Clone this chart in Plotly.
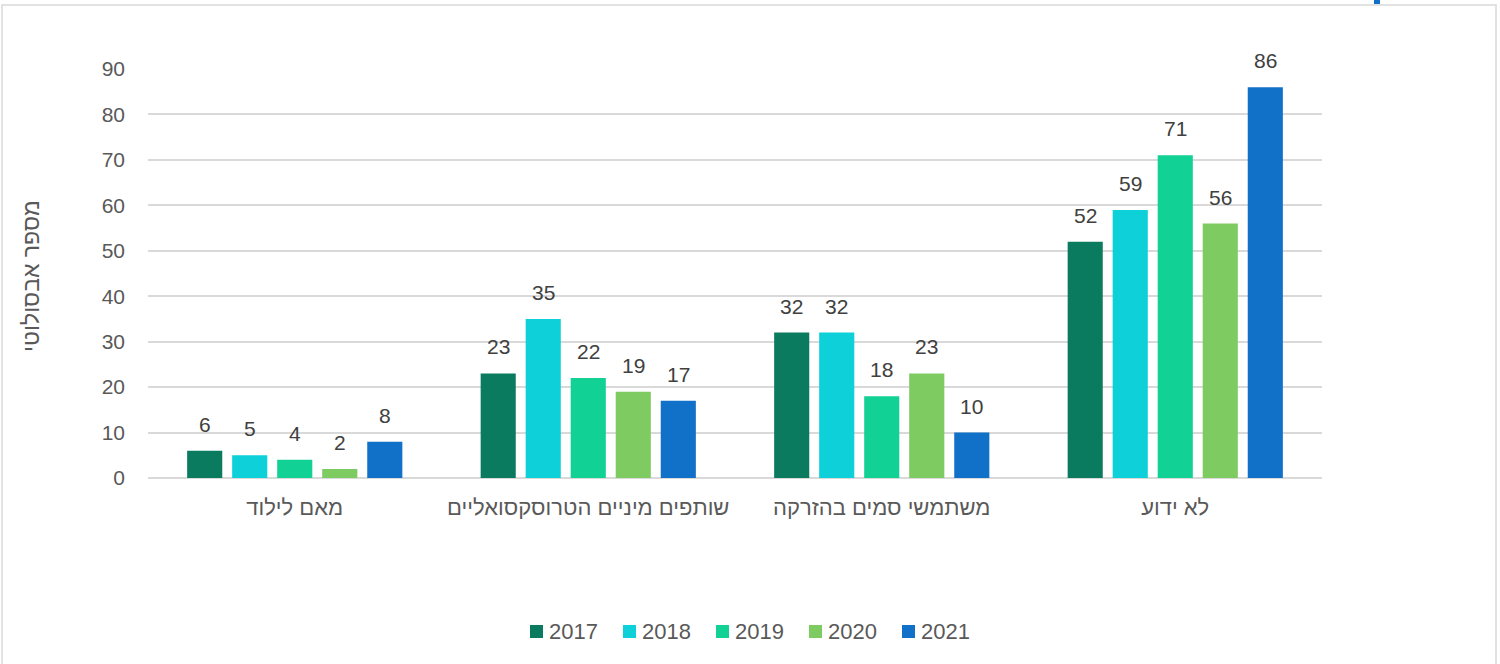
import plotly.graph_objects as go

categories = ["מאם לילוד", "שותפים מיניים הטרוסקסואליים", "משתמשי סמים בהזרקה", "לא ידוע"]
years = ["2017", "2018", "2019", "2020", "2021"]
v2017 = [6, 23, 32, 52]
v2018 = [5, 35, 32, 59]
v2019 = [4, 22, 18, 71]
v2020 = [2, 19, 23, 56]
v2021 = [8, 17, 10, 86]
series = [v2017, v2018, v2019, v2020, v2021]
colors = ["#0B7B5F", "#0DD0D8", "#12D195", "#7ECB62", "#1170C7"]

FONT = "Liberation Sans, Arial, sans-serif"
W, H = 1500, 664
# plot area in pixel coordinates
X0, X1, Y0, Y1 = 148, 1322, 69, 478
L = X0
R = W - X1
T = Y0
B = H - Y1
PW = W - L - R
PH = H - T - B

BARGAP = 0.233
GROUPGAP = 0.22

def px(x):
    return (x - X0) / PW

def py(y):
    return (Y1 - y) / PH

fig = go.Figure()
for name, vals, col in zip(years, series, colors):
    fig.add_trace(go.Bar(
        x=categories, y=vals, name=name, marker_color=col,
        marker_line_width=0, showlegend=False,
    ))

# data labels
slot = PW / len(categories) * (1 - BARGAP) / len(years)
annotations = []
for i, (vals, name) in enumerate(zip(series, years)):
    for cat, v in zip(categories, vals):
        annotations.append(dict(
            x=cat, y=v, xref="x", yref="y", text=str(v), showarrow=False,
            xshift=(i - (len(years) - 1) / 2) * slot, yshift=13,
            yanchor="bottom", xanchor="center",
            font=dict(size=21, color="#404040", family=FONT)))

# y-axis title
annotations.append(dict(text="מספר אבסולוטי", textangle=-90, xref="paper", yref="paper",
                        x=px(31), y=py(276), xanchor="center", yanchor="middle", showarrow=False,
                        font=dict(size=23, color="#595959", family=FONT)))

shapes = [
    dict(type="rect", xref="paper", yref="paper",
         x0=px(2), x1=px(1496), y0=py(668), y1=py(5),
         line=dict(color="#D9D9D9", width=1.5), fillcolor="rgba(0,0,0,0)", layer="below"),
    dict(type="rect", xref="paper", yref="paper",
         x0=px(1374), x1=px(1380), y0=py(4), y1=py(-2),
         line=dict(width=0), fillcolor="#1170C7"),
]

# manual legend
LEG_X, LEG_STEP, LEG_Y = 530, 93, 631
for i, (name, col) in enumerate(zip(years, colors)):
    sx = LEG_X + i * LEG_STEP
    shapes.append(dict(type="rect", xref="paper", yref="paper",
                       x0=px(sx), x1=px(sx + 13), y0=py(LEG_Y + 7), y1=py(LEG_Y - 6),
                       line=dict(width=0), fillcolor=col))
    annotations.append(dict(text=name, xref="paper", yref="paper", x=px(sx + 17), y=py(LEG_Y),
                            xanchor="left", yanchor="middle", showarrow=False,
                            font=dict(size=22, color="#595959", family=FONT)))

fig.update_layout(
    width=W, height=H,
    margin=dict(l=L, r=R, t=T, b=B, autoexpand=False),
    paper_bgcolor="white", plot_bgcolor="white",
    barmode="group", bargap=BARGAP, bargroupgap=GROUPGAP,
    font=dict(family=FONT, color="#595959", size=20),
    showlegend=False,
    xaxis=dict(showgrid=False, showline=False, ticks="", tickfont=dict(size=22, color="#595959"),
               ticklabelstandoff=14),
    yaxis=dict(range=[0, 90], dtick=10, showgrid=True, gridcolor="#D9D9D9", gridwidth=1.5,
               zeroline=True, zerolinecolor="#D9D9D9", zerolinewidth=1.5,
               showline=False, ticks="", tickfont=dict(size=21, color="#595959"),
               ticklabelstandoff=22),
    shapes=shapes,
    annotations=annotations,
)

fig.write_html("out.html",
               config={"displayModeBar": False},
               post_script="document.body.style.margin='0';document.body.style.overflow='hidden';"
                           "document.documentElement.style.overflow='hidden';")
